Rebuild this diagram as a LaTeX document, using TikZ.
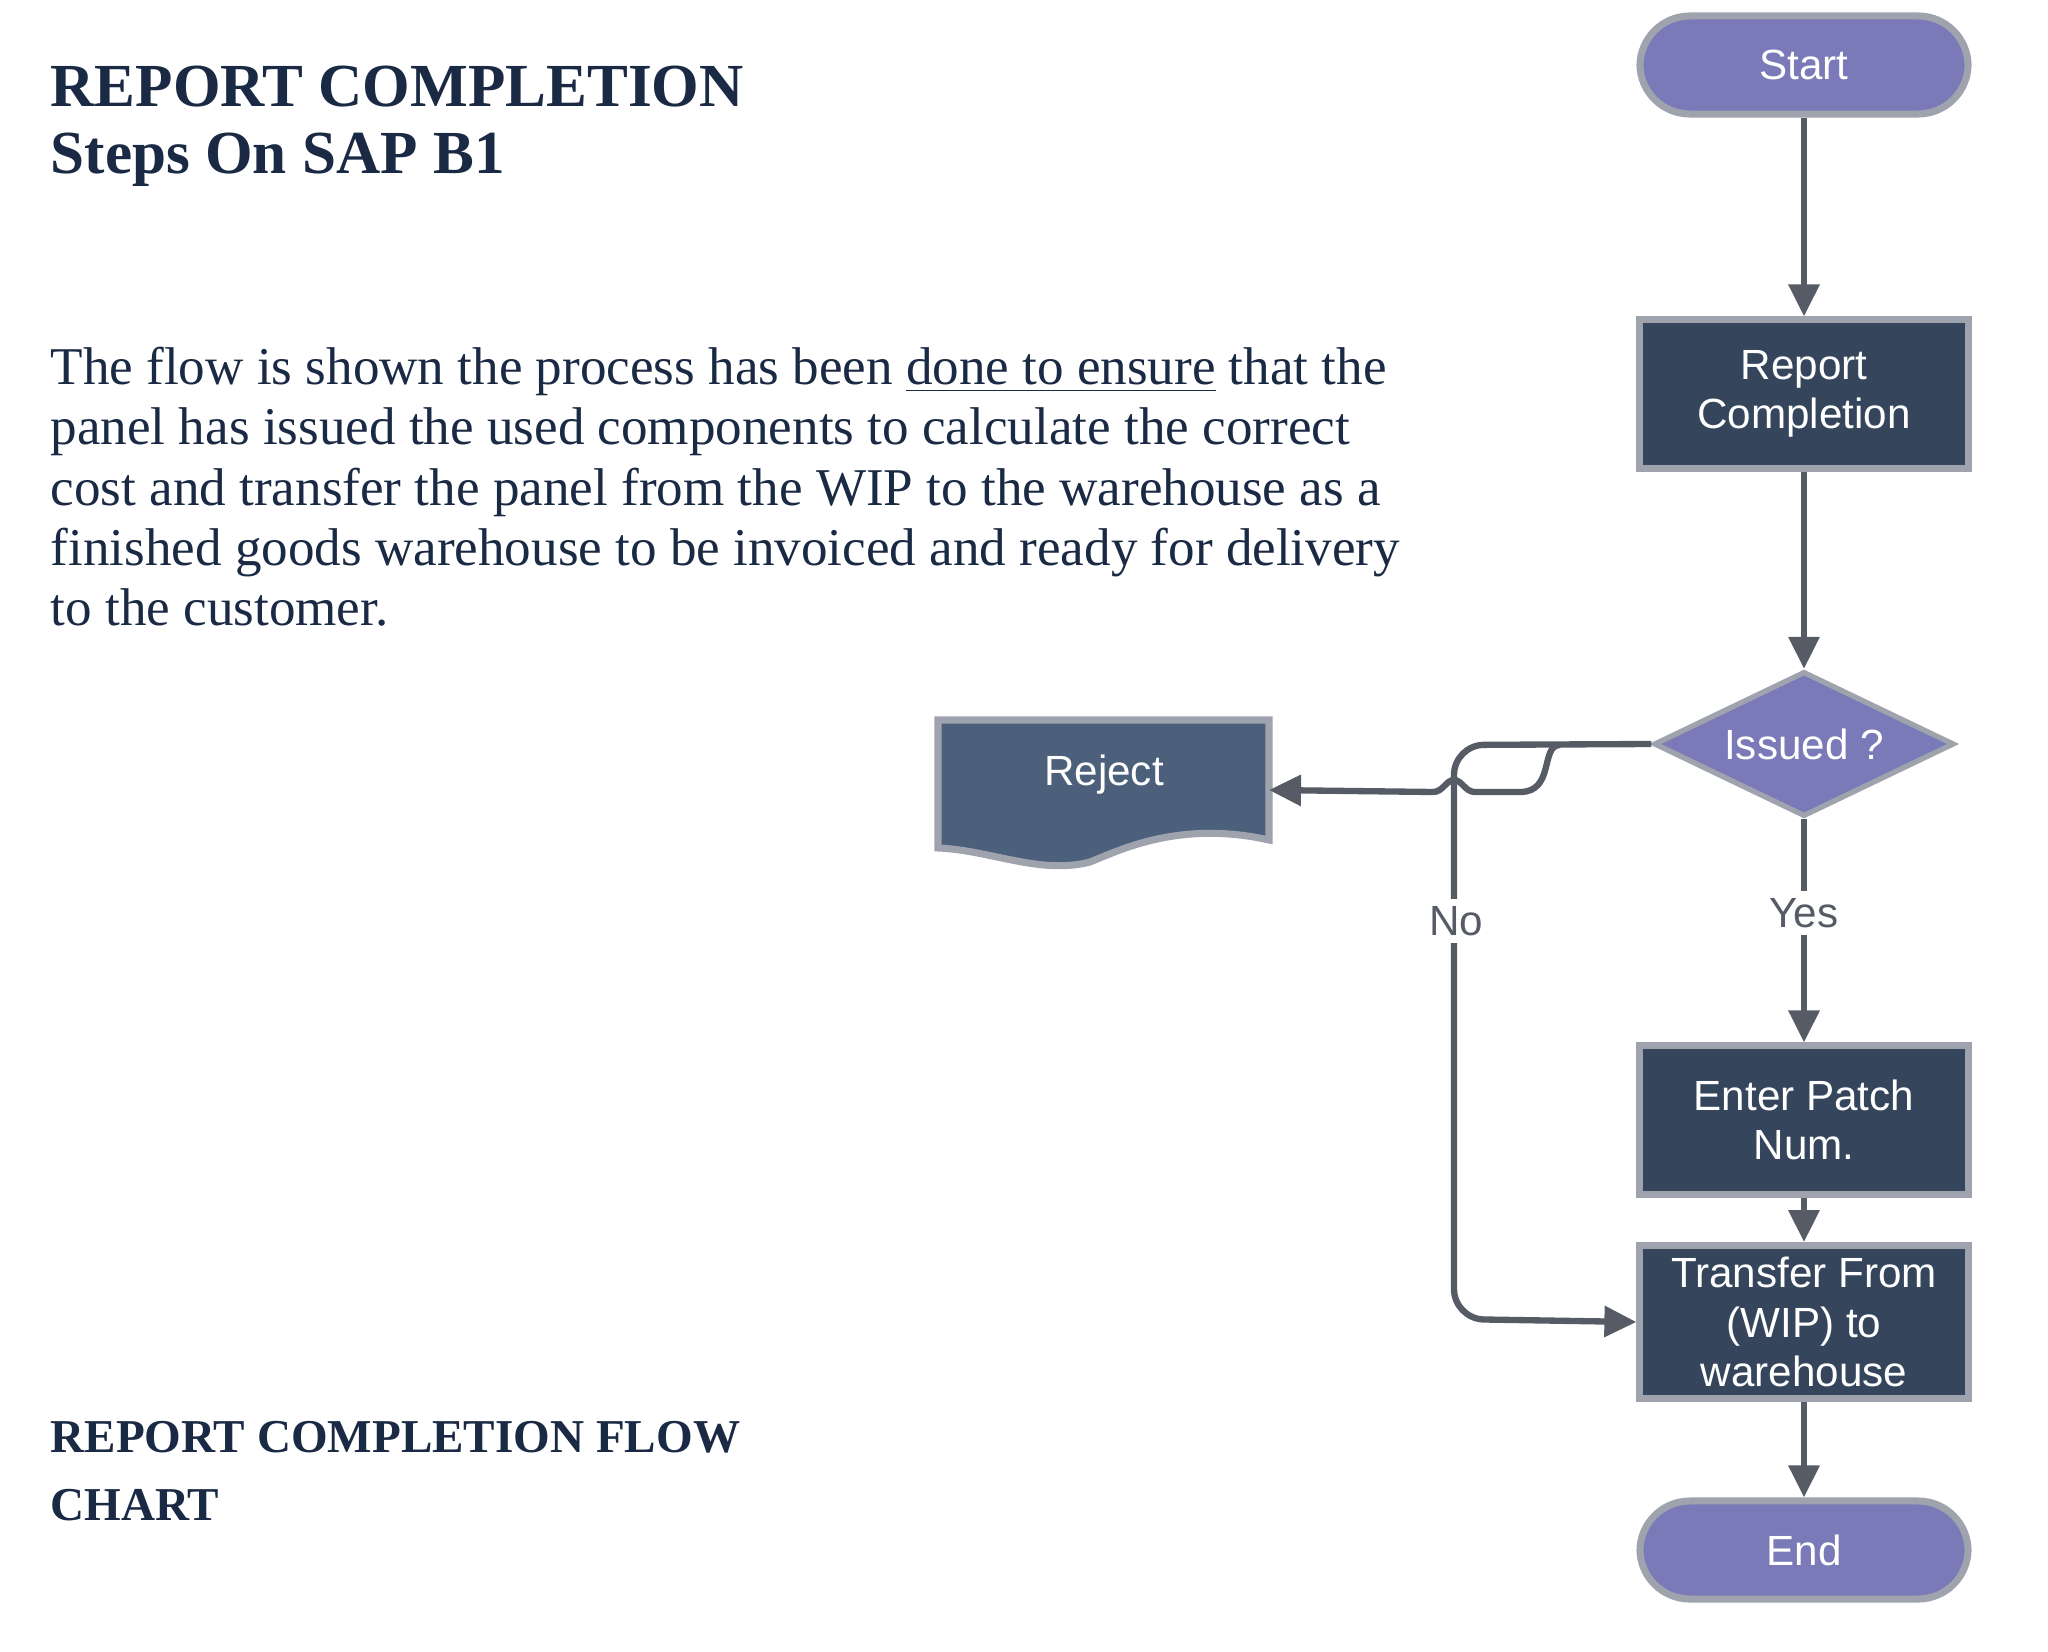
\documentclass[tikz,border=0pt]{standalone}
\usepackage{fontspec}
\setmainfont{Liberation Serif}
\newfontfamily\nodefont{Liberation Sans}
\usetikzlibrary{arrows.meta,shapes.geometric}
\definecolor{ink}{HTML}{1B2A44}
\definecolor{boxc}{HTML}{34455C}
\definecolor{purp}{HTML}{7A7AB8}
\definecolor{rej}{HTML}{4C607C}
\definecolor{edge}{HTML}{9EA3AD}
\definecolor{arr}{HTML}{565B66}
\begin{document}
\begin{tikzpicture}[x=0.01cm,y=-0.01cm,
  txt/.style={font=\nodefont\fontsize{12}{14}\selectfont,text=white,align=center},
  term/.style={txt,rounded corners=0.5cm,fill=purp,draw=edge,line width=2pt,minimum width=3.28cm,minimum height=0.98cm},
  proc/.style={txt,fill=boxc,draw=edge,line width=2pt,minimum width=3.28cm,minimum height=1.48cm},
  dia/.style={txt,diamond,fill=purp,draw=edge,line width=1.5pt,aspect=2.1,minimum width=3.0cm,minimum height=1.45cm,inner sep=0pt},
  con/.style={arr,line width=1.8pt,-{Triangle[length=0.32cm,width=0.3cm]}},
  lab/.style={font=\nodefont\fontsize{12}{14}\selectfont,text=arr,fill=white,inner sep=2pt},
  body/.style={anchor=base west,text=ink,inner sep=0pt,font=\fontsize{15.1}{18}\selectfont},
  head/.style={anchor=base west,text=ink,inner sep=0pt,font=\bfseries\fontsize{17.4}{20}\selectfont}]
\useasboundingbox[fill=white] (0,0) rectangle (2048,1652);
% texts
\node[head] (t1) at (50,107) {REPORT COMPLETION};
\node[head] (t2) at (50,174) {Steps On SAP B1};
\node[body] (b1) at (50,385) {The flow is shown the process has been \underline{done to ensure} that the};
\node[body] (b2) at (50,445) {panel has issued the used components to calculate the correct};
\node[body] (b3) at (50,505) {cost and transfer the panel from the WIP to the warehouse as a};
\node[body] (b4) at (50,565) {finished goods warehouse to be invoiced and ready for delivery};
\node[body] (b5) at (50,626) {to the customer.};
\node[head,font=\bfseries\fontsize{13.4}{16}\selectfont] (h1) at (50,1452) {REPORT COMPLETION FLOW};
\node[head,font=\bfseries\fontsize{13.4}{16}\selectfont] (h2) at (50,1520) {CHART};
% nodes
\node[term] (start) at (1804,65) {Start};
\node[proc] (report) at (1804,394) {Report\\Completion};
\node[dia] (issued) at (1804,744) {Issued ?};
\node[proc] (enter) at (1804,1120) {Enter Patch\\Num.};
\node[proc] (transfer) at (1804,1322) {Transfer From\\(WIP) to\\warehouse};
\node[term] (end) at (1804,1550) {End};
% reject document shape
\draw[fill=rej,draw=edge,line width=2pt] (938,720) -- (1269,720) -- (1269,840)
  .. controls (1180,820) and (1120,850) .. (1090,862)
  .. controls (1040,875) and (990,850) .. (938,848) -- cycle;
\node[txt,minimum width=3.31cm,minimum height=1.1cm] (reject) at (1104,775) {Reject};
\coordinate (rejE) at (1269,790);
% connectors
\draw[con] (start) -- (report);
\draw[con] (report) -- (issued);
\draw[con] (issued) -- node[lab,pos=0.42] (yes) {Yes} (enter);
\draw[con] (enter) -- (transfer);
\draw[con] (transfer) -- (end);
\draw[con,rounded corners=0.3cm] (issued.west) -- (1454,745) -- (1454,1319) -- (transfer.west);
\node[lab] (no) at (1456,921) {No};
\draw[con] (1560,745) .. controls (1540,745) and (1555,792) .. (1520,792) -- (1475,792)
  .. controls (1465,792) and (1462,780) .. (1454,780) .. controls (1446,780) and (1443,792) .. (1433,792) -- (rejE);
\end{tikzpicture}
\end{document}
